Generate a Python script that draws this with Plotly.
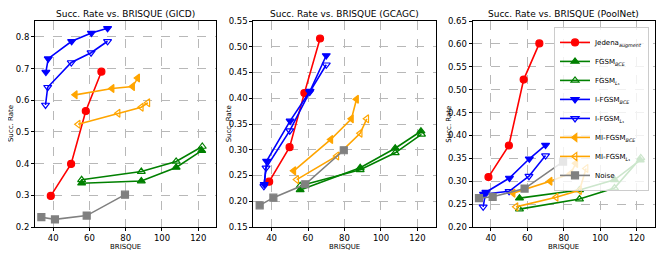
import plotly.graph_objects as go

# ---- data (BRISQUE x values shared across models) ----
jedena_x = [38.7, 49.9, 58.0, 66.6]
fgsm_bce_x = [55.7, 88.6, 107.8, 121.9]
fgsm_l1_x = [55.7, 88.6, 107.8, 122.2]
ifgsm_bce_x = [36.0, 37.3, 50.2, 61.1, 70.0]
ifgsm_l1_x = [35.8, 37.0, 50.0, 60.9, 70.0]
mi_bce_x = [52.2, 72.5, 83.8, 86.6]
mi_l1_x = [53.8, 75.8, 88.6, 92.2]
noise_x = [33.5, 41.0, 58.5, 79.6]

# GICD
gicd_jedena = [0.298, 0.399, 0.566, 0.690]
gicd_fgsm_bce = [0.338, 0.345, 0.388, 0.441]
gicd_fgsm_l1 = [0.349, 0.375, 0.407, 0.454]
gicd_ifgsm_bce = [0.689, 0.731, 0.786, 0.812, 0.827]
gicd_ifgsm_l1 = [0.585, 0.641, 0.719, 0.750, 0.786]
gicd_mi_bce = [0.617, 0.637, 0.643, 0.670]
gicd_mi_l1 = [0.524, 0.559, 0.578, 0.592]
gicd_noise = [0.231, 0.224, 0.236, 0.302]

# GCAGC
gcagc_jedena = [0.238, 0.305, 0.410, 0.516]
gcagc_fgsm_bce = [0.222, 0.265, 0.303, 0.336]
gcagc_fgsm_l1 = [0.230, 0.261, 0.294, 0.330]
gcagc_ifgsm_bce = [0.233, 0.278, 0.356, 0.414, 0.483]
gcagc_ifgsm_l1 = [0.229, 0.265, 0.337, 0.412, 0.465]
gcagc_mi_bce = [0.259, 0.320, 0.360, 0.398]
gcagc_mi_l1 = [0.242, 0.288, 0.332, 0.360]
gcagc_noise = [0.192, 0.207, 0.233, 0.299]

# PoolNet
pool_jedena = [0.309, 0.378, 0.522, 0.601]
pool_fgsm_bce = [0.263, 0.281, 0.303, 0.346]
pool_fgsm_l1 = [0.239, 0.261, 0.285, 0.351]
pool_ifgsm_bce = [0.272, 0.276, 0.307, 0.349, 0.379]
pool_ifgsm_l1 = [0.244, 0.272, 0.278, 0.311, 0.356]
pool_mi_bce = [0.274, 0.300, 0.317, 0.339]
pool_mi_l1 = [0.244, 0.265, 0.280, 0.328]
pool_noise = [0.263, 0.266, 0.284, 0.343]

panel_titles = ["Succ. Rate vs. BRISQUE (GICD)",
                "Succ. Rate vs. BRISQUE (GCAGC)",
                "Succ. Rate vs. BRISQUE (PoolNet)"]
x_ticks = [40, 60, 80, 100, 120]
y_ticks_gicd = [0.2, 0.3, 0.4, 0.5, 0.6, 0.7, 0.8]
y_ticks_gcagc = [0.15, 0.20, 0.25, 0.30, 0.35, 0.40, 0.45, 0.50, 0.55]
y_ticks_pool = [0.20, 0.25, 0.30, 0.35, 0.40, 0.45, 0.50, 0.55, 0.60, 0.65]

series_names = ["Jedena<sub><i>augment</i></sub>", "FGSM<sub><i>BCE</i></sub>", "FGSM<sub><i>L</i>₁</sub>",
                "I-FGSM<sub><i>BCE</i></sub>", "I-FGSM<sub><i>L</i>₁</sub>",
                "MI-FGSM<sub><i>BCE</i></sub>", "MI-FGSM<sub><i>L</i>₁</sub>", "Noise"]
series_x = [jedena_x, fgsm_bce_x, fgsm_l1_x, ifgsm_bce_x, ifgsm_l1_x, mi_bce_x, mi_l1_x, noise_x]
colors = ["#ff0000", "#008000", "#008000", "#0000ff", "#0000ff", "#ffa500", "#ffa500", "#808080"]
symbols = ["circle", "triangle-up", "triangle-up-open", "triangle-down", "triangle-down-open",
           "triangle-left", "triangle-left-open", "square"]

panels = [
    [gicd_jedena, gicd_fgsm_bce, gicd_fgsm_l1, gicd_ifgsm_bce, gicd_ifgsm_l1, gicd_mi_bce, gicd_mi_l1, gicd_noise],
    [gcagc_jedena, gcagc_fgsm_bce, gcagc_fgsm_l1, gcagc_ifgsm_bce, gcagc_ifgsm_l1, gcagc_mi_bce, gcagc_mi_l1, gcagc_noise],
    [pool_jedena, pool_fgsm_bce, pool_fgsm_l1, pool_ifgsm_bce, pool_ifgsm_l1, pool_mi_bce, pool_mi_l1, pool_noise],
]
y_ranges = [[0.2, 0.85], [0.15, 0.55], [0.2, 0.65]]
y_ticksets = [y_ticks_gicd, y_ticks_gcagc, y_ticks_pool]
y_formats = [".1f", ".2f", ".2f"]

# page body has an 8px default margin: lay out in page pixels, then shift
OFF = 8
W, H = 664 - OFF, 256 - OFF
ml, mt = 34 - OFF, 18 - OFF
plot_bottom = 227 - OFF
plot_right = 656 - OFF
mb = H - plot_bottom
mr = W - plot_right
pw = W - ml - mr
ph = H - mt - mb
px_left = [34 - OFF, 253 - OFF, 473 - OFF]
px_right = [216 - OFF, 436 - OFF, 656 - OFF]
domains = [[(a - ml) / pw, (b - ml) / pw] for a, b in zip(px_left, px_right)]

FONT = "DejaVu Sans"
fig = go.Figure()

for p in range(3):
    xa = "x" if p == 0 else f"x{p+1}"
    ya = "y" if p == 0 else f"y{p+1}"
    for i in range(8):
        fig.add_trace(go.Scatter(
            x=series_x[i], y=panels[p][i], mode="lines+markers",
            name=series_names[i], legendgroup=str(i), showlegend=(p == 2),
            line=dict(color=colors[i], width=1.6),
            marker=dict(symbol=symbols[i], size=7, color=colors[i],
                        line=dict(color=colors[i], width=1.2)),
            xaxis=xa, yaxis=ya,
        ))

axis_common = dict(
    showline=True, linecolor="black", linewidth=1, mirror=True,
    ticks="outside", ticklen=3, tickwidth=0.8, tickcolor="black",
    showgrid=True, gridcolor="#b8b8b8", gridwidth=0.7, griddash="dash",
    zeroline=False, tickfont=dict(family=FONT, size=8.5, color="black"),
)

layout = dict(
    width=W, height=H, margin=dict(l=ml, r=mr, t=mt, b=mb),
    plot_bgcolor="white", paper_bgcolor="white",
    font=dict(family=FONT, color="black"),
    legend=dict(x=(650 - OFF - ml) / pw, y=1 - (24 - OFF - mt) / ph, xanchor="right", yanchor="top",
                bgcolor="rgba(255,255,255,0.8)", bordercolor="#cccccc", borderwidth=1,
                font=dict(family=FONT, size=7, color="black"), itemwidth=30,
                tracegroupgap=0),
)
annotations = []
for p in range(3):
    xk = "xaxis" if p == 0 else f"xaxis{p+1}"
    yk = "yaxis" if p == 0 else f"yaxis{p+1}"
    ya = "y" if p == 0 else f"y{p+1}"
    xa = "x" if p == 0 else f"x{p+1}"
    layout[xk] = dict(axis_common, domain=domains[p], range=[30, 130], tickvals=x_ticks,
                      anchor=ya)
    layout[yk] = dict(axis_common, domain=[0, 1], range=y_ranges[p], tickvals=y_ticksets[p],
                      tickformat=y_formats[p], anchor=xa)
    cx = (domains[p][0] + domains[p][1]) / 2
    annotations.append(dict(text=panel_titles[p], x=cx, y=1, xref="paper", yref="paper",
                            xanchor="center", yanchor="bottom", yshift=0, showarrow=False,
                            font=dict(family=FONT, size=9, color="black")))
    annotations.append(dict(text="BRISQUE", x=cx, y=0, xref="paper", yref="paper",
                            xanchor="center", yanchor="top", yshift=-14, showarrow=False,
                            font=dict(family=FONT, size=7, color="black")))
    annotations.append(dict(text="Succ. Rate", x=(px_left[p] - 24 - ml) / pw, y=0.5,
                            xref="paper", yref="paper", xanchor="center", yanchor="middle",
                            textangle=-90, showarrow=False,
                            font=dict(family=FONT, size=7, color="black")))
layout["annotations"] = annotations
fig.update_layout(**layout)
fig.write_html("out.html")
